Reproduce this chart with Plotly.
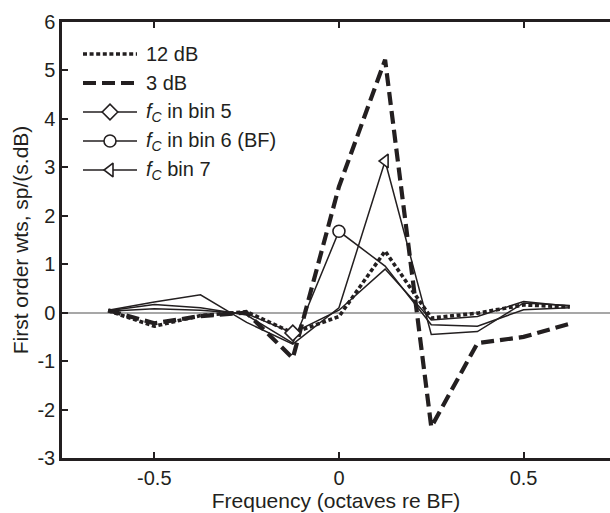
import plotly.graph_objects as go

# ---- data ----
freq = [-0.625, -0.5, -0.375, -0.25, -0.125, 0.0, 0.125, 0.25, 0.375, 0.5, 0.625]
db12 = [0.04, -0.28, -0.06, 0.02, -0.42, -0.08, 1.27, -0.11, -0.01, 0.16, 0.12]
db3 = [0.05, -0.22, -0.07, 0.0, -0.94, 2.6, 5.22, -2.36, -0.63, -0.5, -0.23]
bin5 = [0.03, 0.08, 0.05, -0.02, -0.42, 0.05, 0.9, -0.15, -0.08, 0.23, 0.13]
bin6 = [0.04, 0.17, 0.1, -0.05, -0.63, 1.68, 0.96, -0.25, -0.28, 0.06, 0.1]
bin7 = [0.05, 0.22, 0.37, -0.2, -0.65, 0.1, 3.13, -0.45, -0.39, 0.2, 0.15]
marker_idx = {"bin5": 4, "bin6": 5, "bin7": 6}

xtick_vals = [-0.5, 0, 0.5]
xtick_text = ["-0.5", "0", "0.5"]
ytick_vals = [-3, -2, -1, 0, 1, 2, 3, 4, 5, 6]
ytick_text = ["-3", "-2", "-1", "0", "1", "2", "3", "4", "5", "6"]

legend_labels = ["12 dB", "3 dB",
                 "<i>f</i><sub><i>C</i></sub> in bin 5",
                 "<i>f</i><sub><i>C</i></sub> in bin 6 (BF)",
                 "<i>f</i><sub><i>C</i></sub> bin 7"]

BLACK = "#231f20"
FONT = "Liberation Sans, Arial, sans-serif"
W, H = 610, 513
ML, MR, MT, MB = 62, 0, 22, 55
TICK_FS, TITLE_FS, LEG_FS = 20, 21, 20
MSIZE = 12

fig = go.Figure()

fig.add_trace(go.Scatter(x=freq, y=db12, mode="lines", showlegend=False,
                         line=dict(color=BLACK, width=3.6, dash="4px,2.6px")))
fig.add_trace(go.Scatter(x=freq, y=db3, mode="lines", showlegend=False,
                         line=dict(color=BLACK, width=4.2, dash="13px,6px")))

styles = [("bin5", bin5, "diamond"), ("bin6", bin6, "circle"),
          ("bin7", bin7, "triangle-left")]
for name, ys, sym in styles:
    fig.add_trace(go.Scatter(x=freq, y=ys, mode="lines", showlegend=False,
                             line=dict(color=BLACK, width=1.5)))
for name, ys, sym in styles:
    i = marker_idx[name]
    fig.add_trace(go.Scatter(x=[freq[i]], y=[ys[i]], mode="markers", showlegend=False,
                             marker=dict(symbol=sym, size=MSIZE, color="white",
                                         line=dict(color=BLACK, width=1.6))))

# ---- custom legend on a pixel-coordinate overlay axis ----
leg_y = [54, 83, 112, 141, 170]
lx0, lx1, ltx = 83, 137, 144
leg_styles = [
    dict(width=3.6, dash="4px,2.6px", sym=None),
    dict(width=4.2, dash="13px,6px", sym=None),
    dict(width=1.5, dash="solid", sym="diamond"),
    dict(width=1.5, dash="solid", sym="circle"),
    dict(width=1.5, dash="solid", sym="triangle-left"),
]
for yy, st, lab in zip(leg_y, leg_styles, legend_labels):
    fig.add_trace(go.Scatter(x=[lx0, lx1], y=[yy, yy], mode="lines", xaxis="x2", yaxis="y2",
                             showlegend=False, hoverinfo="skip",
                             line=dict(color=BLACK, width=st["width"], dash=st["dash"])))
    if st["sym"]:
        fig.add_trace(go.Scatter(x=[(lx0 + lx1) / 2], y=[yy], mode="markers", xaxis="x2",
                                 yaxis="y2", showlegend=False, hoverinfo="skip",
                                 marker=dict(symbol=st["sym"], size=MSIZE, color="white",
                                             line=dict(color=BLACK, width=1.6))))
    fig.add_annotation(x=ltx, y=yy, xref="x2", yref="y2", text=lab, showarrow=False,
                       xanchor="left", yanchor="middle",
                       font=dict(family=FONT, size=LEG_FS, color=BLACK))

fig.update_layout(
    width=W, height=H,
    margin=dict(l=ML, r=MR, t=MT, b=MB, pad=0),
    paper_bgcolor="white", plot_bgcolor="white",
    font=dict(family=FONT, size=TICK_FS, color=BLACK),
    showlegend=False,
    xaxis=dict(range=[-0.75, 0.734], tickvals=xtick_vals, ticktext=xtick_text,
               ticks="inside", ticklen=6, tickwidth=2, tickcolor=BLACK,
               showline=True, linecolor=BLACK, linewidth=2.5, mirror="ticks",
               showgrid=False, zeroline=False,
               title=dict(text="Frequency (octaves re BF)", standoff=4,
                          font=dict(family=FONT, size=TITLE_FS, color=BLACK)),
               tickfont=dict(family=FONT, size=TICK_FS, color=BLACK)),
    yaxis=dict(range=[-3, 6], tickvals=ytick_vals, ticktext=ytick_text,
               ticks="inside", ticklen=6, tickwidth=2, tickcolor=BLACK,
               showline=True, linecolor=BLACK, linewidth=2.5, mirror=False,
               showgrid=False, zeroline=True, zerolinecolor="#a7a7a7", zerolinewidth=2.2,
               title=dict(text="First order wts, sp/(s.dB)", standoff=4,
                          font=dict(family=FONT, size=TITLE_FS, color=BLACK)),
               tickfont=dict(family=FONT, size=TICK_FS, color=BLACK)),
    xaxis2=dict(range=[ML, W - MR], overlaying="x", visible=False, fixedrange=True),
    yaxis2=dict(range=[H - MB, MT], overlaying="y", visible=False, fixedrange=True),
)

fig.write_html("out.html")
